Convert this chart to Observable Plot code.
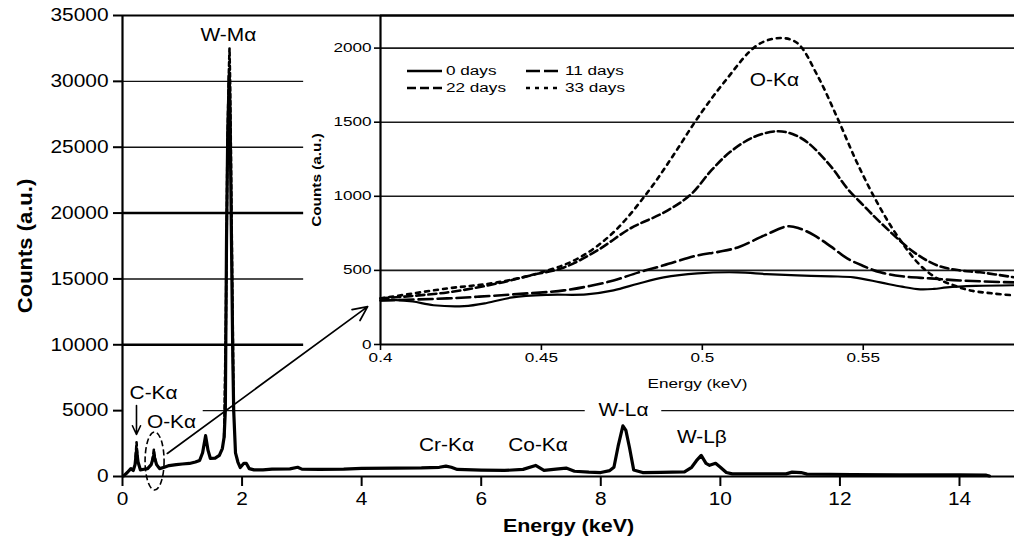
<!DOCTYPE html>
<html><head><meta charset="utf-8">
<script src="https://cdn.jsdelivr.net/npm/d3@7"></script>
<script src="https://cdn.jsdelivr.net/npm/@observablehq/plot@0.6"></script>
<style>
html,body{margin:0;padding:0;background:#fff;}
#wrap{position:relative;width:1014px;height:545px;overflow:hidden;font-family:"Liberation Sans",Arial,sans-serif;}
#wrap svg{position:absolute;overflow:visible;}
</style></head><body><div id="wrap"></div>
<script>
// ---------- main spectrum (keV, counts) ----------
const mainEnergy = [0.02,0.08,0.14,0.18,0.21,0.235,0.26,0.30,0.36,0.42,0.48,0.525,0.57,0.62,0.70,0.78,0.90,1.00,1.12,1.22,1.29,1.34,1.39,1.43,1.47,1.55,1.62,1.67,1.70,1.72,1.74,1.76,1.785,1.80,1.82,1.845,1.86,1.89,1.93,1.97,2.03,2.07,2.12,2.20,2.35,2.50,2.80,2.93,3.00,3.30,3.70,4.00,4.57,5.00,5.30,5.41,5.50,5.60,6.00,6.39,6.70,6.91,7.05,7.25,7.42,7.56,7.80,8.00,8.15,8.22,8.29,8.37,8.42,8.48,8.55,8.70,9.00,9.40,9.52,9.60,9.68,9.76,9.82,9.92,10.00,10.10,10.20,11.10,11.20,11.35,11.45,12.20,13.00,14.00,14.45,14.50];
const mainCounts = [50,300,600,450,900,2000,1100,500,550,600,900,1600,900,600,700,830,900,950,990,1100,1215,1800,3100,2000,1370,1400,1600,2125,3000,5000,18000,26000,30500,27000,19000,9000,5000,1800,1100,680,1000,1000,600,500,500,560,580,700,560,540,560,620,630,650,700,790,700,540,480,460,540,840,470,560,640,400,330,300,450,700,2300,3850,3500,2200,500,300,320,350,700,1200,1600,1000,850,1000,700,300,200,200,330,300,180,150,130,120,100,40];
// 33-day trace where it shows above the others (NaN = gap)
const peakEnergy33 = [0.22,0.235,0.25,0.3,0.50,0.525,0.55,0.6,1.70,1.73,1.755,1.775,1.79,1.80,1.815,1.835,1.86];
const peakCounts33 = [1500,2600,1500,NaN,1200,2050,1200,NaN,3000,12000,25000,30000,32500,30000,24000,15000,5000];

const mainXTicks = [0,2,4,6,8,10,12,14];
const mainYTicks = [0,5000,10000,15000,20000,25000,30000,35000];
const mainGridThin = [15000,25000,30000];
const mainGridBold = [10000,20000];
const grid5000Segments = [[1.35,7.74],[9.02,14.92]];

const peakLabels = ["W-Mα","C-Kα","O-Kα","W-Lα","Cr-Kα","Co-Kα","W-Lβ"];
const peakLabelX = [1.77,0.52,0.82,8.38,5.42,6.95,9.69];
const peakLabelY = [33490,6300,4100,5000,2350,2350,2960];

// ---------- inset: O-Kα region ----------
const e0  = [0.400,0.405,0.410,0.4165,0.426,0.433,0.441,0.452,0.464,0.4724,0.480,0.488,0.4985,0.511,0.520,0.5295,0.540,0.547,0.5553,0.562,0.5677,0.572,0.576,0.585,0.597];
const c0  = [297,300,290,265,259,280,318,335,338,365,410,453,480,487,475,466,460,453,419,390,372,375,385,395,400];
const e11 = [0.400,0.4207,0.430,0.441,0.457,0.465,0.4724,0.480,0.488,0.4985,0.505,0.511,0.5193,0.5264,0.530,0.5348,0.540,0.545,0.550,0.5553,0.562,0.5708,0.580,0.597];
const c11 = [297,311,322,338,365,395,432,485,534,601,625,655,736,797,785,736,660,581,530,487,460,446,432,419];
const e22 = [0.400,0.4207,0.4363,0.4466,0.457,0.4674,0.4777,0.488,0.4963,0.503,0.5087,0.516,0.5233,0.528,0.5326,0.540,0.545,0.550,0.5553,0.5658,0.573,0.580,0.5863,0.597];
const c22 = [311,351,412,466,520,635,784,890,1010,1180,1300,1400,1439,1420,1365,1200,1054,940,824,622,534,500,487,453];
const e33 = [0.400,0.4207,0.4363,0.452,0.462,0.4724,0.483,0.491,0.4985,0.5068,0.5171,0.5242,0.5295,0.5357,0.542,0.548,0.5543,0.5605,0.5677,0.573,0.578,0.5832,0.590,0.597];
const c33 = [311,378,419,500,588,757,1027,1277,1527,1770,2020,2068,2034,1818,1527,1230,959,736,534,446,400,365,345,331];

const seriesNames = ["0 days","11 days","22 days","33 days"];
const insetXTicks = [0.4,0.45,0.5,0.55];
const insetYTicks = [0,500,1000,1500,2000];

// ---------- styles ----------
const dashes = [null,"14,5","8,4","4,5"];
const legendDashes = [null,"14,4","9,4","4,5"];
const FONT = '"Liberation Sans", Arial, sans-serif';

const toPts = (xs, ys) => xs.map((x, i) => ({x, y: ys[i]}));
const mainData = toPts(mainEnergy, mainCounts);
const peak33 = toPts(peakEnergy33, peakCounts33);
const insetSeries = [toPts(e0,c0), toPts(e11,c11), toPts(e22,c22), toPts(e33,c33)];
const labelData = peakLabels.map((t,i) => ({t, x: peakLabelX[i], y: peakLabelY[i]}));
const grid5000 = grid5000Segments.map(([a,b]) => ({x1:a, x2:b, y:5000}));

// annotations in data units
const arrowBig = [{x1:0.75,y1:1750,x2:4.10,y2:12900}];
const arrowC = [{x1:0.234,y1:5390,x2:0.234,y2:3190}];
const ellipseO = {cx:0.545, cy:1139, rx:0.159, ry:2202};

const wrap = document.getElementById("wrap");

// ---------- inset plot ----------
const inset = Plot.plot({
  width: 711, height: 400,
  marginLeft: 77, marginRight: 0, marginTop: 15, marginBottom: 56,
  style: {background: "#fff", fontFamily: FONT, fontSize: "12.5px", color: "#000"},
  x: {domain: [0.4, 0.597]},
  y: {domain: [0, 2220]},
  marks: [
    Plot.ruleY(insetYTicks.filter(d => d > 0), {stroke: "#1a1a1a", strokeWidth: 1.6}),
    ...insetSeries.map((s, i) => Plot.line(s, {x: "x", y: "y", stroke: "#000",
        strokeWidth: i === 0 ? 2.2 : 2.6, strokeDasharray: dashes[i], curve: "catmull-rom"})),
    Plot.ruleX([0.4], {strokeWidth: 2.2}),
    Plot.ruleY([0], {strokeWidth: 2.2}),
    Plot.ruleY([2220], {strokeWidth: 2.2}),
    Plot.axisX(insetXTicks, {tickSize: 6, tickPadding: 3, strokeWidth: 1.6, tickFormat: d => String(d), label: null}),
    Plot.axisY(insetYTicks, {tickSize: 6, tickPadding: 3, strokeWidth: 1.6, tickFormat: d => String(d), label: null}),
    Plot.text(["O-Kα"], {x: 0.5224, y: 1784, text: d => d, fontSize: 18}),
    Plot.text(["Energy (keV)"], {frameAnchor: "bottom", dy: 43, text: d => d}),
    Plot.text(["Counts (a.u.)"], {frameAnchor: "left", dx: -64, rotate: -90, textAnchor: "middle", text: d => d, fontSize: 13, fontWeight: "bold"})
  ]
});
inset.style.left = "303px"; inset.style.top = "0px";
wrap.appendChild(inset);

// legend (inside inset)
const leg = d3.create("svg").attr("width", 260).attr("height", 40)
  .style("left", "405px").style("top", "62px").style("font-family", FONT).style("font-size", "12.5px");
seriesNames.forEach((name, i) => {
  const gx = (i % 2) * 119, gy = Math.floor(i / 2) * 17 + 9;
  const g = leg.append("g").attr("transform", `translate(${gx},${gy})`);
  g.append("line").attr("x1", 2).attr("x2", 37).attr("y1", 0).attr("y2", 0)
    .attr("stroke", "#000").attr("stroke-width", 2.6).attr("stroke-dasharray", legendDashes[i]);
  g.append("text").attr("x", 41).attr("y", 0).attr("dy", "0.35em").text(name);
});
wrap.appendChild(leg.node());

// ---------- main plot ----------
const ellipseMark = (index, scales) => {
  const e = d3.create("svg:ellipse")
    .attr("cx", scales.x(ellipseO.cx)).attr("cy", scales.y(ellipseO.cy))
    .attr("rx", scales.x(ellipseO.cx + ellipseO.rx) - scales.x(ellipseO.cx))
    .attr("ry", scales.y(0) - scales.y(ellipseO.ry))
    .attr("fill", "none").attr("stroke", "#000").attr("stroke-width", 1.6).attr("stroke-dasharray", "6,3");
  return e.node();
};

const main = Plot.plot({
  width: 1014, height: 545,
  marginLeft: 122, marginRight: 0, marginTop: 15, marginBottom: 69,
  style: {background: "transparent", fontFamily: FONT, fontSize: "18px", color: "#000"},
  x: {domain: [0, 14.92]},
  y: {domain: [0, 35000]},
  marks: [
    Plot.ruleY(mainGridThin, {x1: 0, x2: 3.03, stroke: "#111", strokeWidth: 1.4}),
    Plot.ruleY(mainGridBold, {x1: 0, x2: 3.03, stroke: "#000", strokeWidth: 2.4}),
    Plot.ruleY(grid5000, {x1: "x1", x2: "x2", y: "y", stroke: "#111", strokeWidth: 1.4}),
    Plot.line(mainData, {x: "x", y: "y", stroke: "#000", strokeWidth: 3.2, strokeLinejoin: "round"}),
    Plot.line(peak33, {x: "x", y: "y", stroke: "#000", strokeWidth: 2.6, strokeDasharray: "4,3"}),
    Plot.ruleX([0], {strokeWidth: 2.2}),
    Plot.ruleY([0], {strokeWidth: 2.2}),
    Plot.ruleY([35000], {strokeWidth: 2.2}),
    Plot.axisX(mainXTicks, {tickSize: 10, tickPadding: 6, strokeWidth: 2, label: null}),
    Plot.axisY(mainYTicks, {tickSize: 9, tickPadding: 5, strokeWidth: 2, tickFormat: d3.format("d"), label: null}),
    Plot.text(labelData, {x: "x", y: "y", text: "t"}),
    Plot.arrow(arrowBig, {x1: "x1", y1: "y1", x2: "x2", y2: "y2", stroke: "#000", strokeWidth: 1.7, headLength: 14, headAngle: 50}),
    Plot.arrow(arrowC, {x1: "x1", y1: "y1", x2: "x2", y2: "y2", stroke: "#000", strokeWidth: 1.6, headLength: 9, headAngle: 50}),
    ellipseMark,
    Plot.text(["Energy (keV)"], {frameAnchor: "bottom", dy: 55, text: d => d, fontWeight: "bold", fontSize: 18.5}),
    Plot.text(["Counts (a.u.)"], {frameAnchor: "left", dx: -97, rotate: -90, textAnchor: "middle", text: d => d, fontWeight: "bold", fontSize: 20})
  ]
});
main.style.left = "0px"; main.style.top = "0px";
wrap.appendChild(main);

// stretch of lettering along the text, as in the reference
function stretch(svg, f, pick) {
  svg.querySelectorAll("text").forEach(t => {
    const ff = pick ? (pick(t) || f) : f;
    const w = t.getComputedTextLength();
    if (w > 0) { t.setAttribute("textLength", (w * ff).toFixed(1)); t.setAttribute("lengthAdjust", "spacingAndGlyphs"); }
  });
}
stretch(main, 1.16, t => t.textContent === "Counts (a.u.)" ? 1.1 : null);
stretch(inset, 1.37, t => t.textContent === "O-Kα" ? 1.16 : t.textContent === "Counts (a.u.)" ? 1.18 : null);
stretch(leg.node(), 1.37);
</script></body></html>
